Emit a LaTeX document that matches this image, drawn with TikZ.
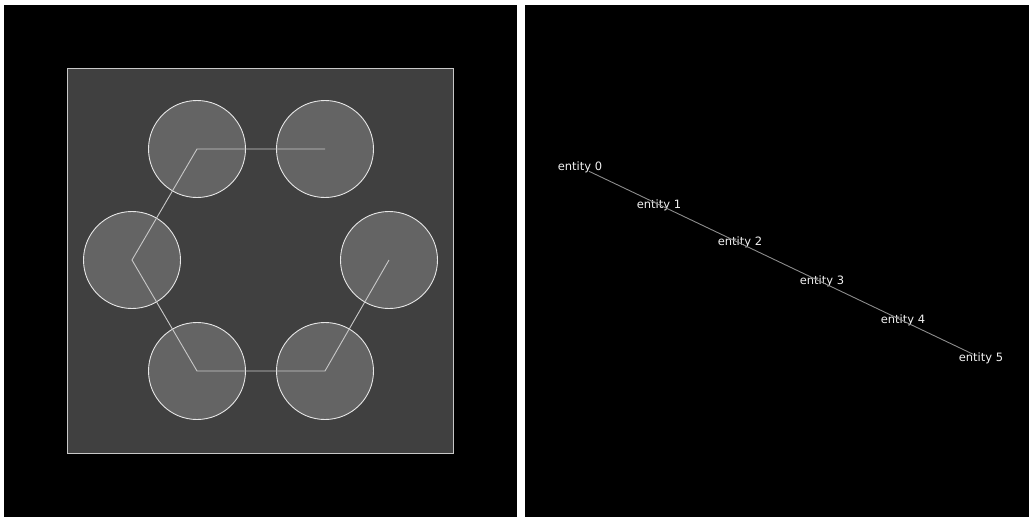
\documentclass[tikz,border=0pt]{standalone}
\usepackage{fontspec}
\setmainfont{DejaVu Sans}
\usepackage{tikz}
\usetikzlibrary{positioning,calc}
\usepackage{xcolor}
\definecolor{panel}{HTML}{000000}
\definecolor{field}{HTML}{404040}
\definecolor{fieldline}{HTML}{C8C8C8}
\definecolor{discfill}{HTML}{646464}
\definecolor{discline}{HTML}{E6E6E6}
\definecolor{pathline}{HTML}{C8C8C8}
\definecolor{chainline}{HTML}{8C8C8C}
\definecolor{tagtext}{HTML}{F2F2F2}

\begin{document}
\begin{tikzpicture}[
  x=1pt,y=-1pt,
  disc/.style={circle,draw=discline,fill=discfill,line width=0.9pt,minimum size=97pt,inner sep=0pt},
  tag/.style={text=tagtext,font=\fontsize{11.5}{13}\selectfont,inner sep=0pt},
  walk/.style={draw=pathline,line width=0.9pt},
  chain/.style={draw=chainline,line width=0.9pt,shorten <=10pt,shorten >=9pt}
]
\useasboundingbox (0,0) rectangle (1029,517);
\fill[white] (0,0) rectangle (1029,517);
% two panels
\fill[panel] (4,5) rectangle (517,517);
\fill[panel] (525,5) rectangle (1029,517);
% left panel: field with discs
\draw[fill=field,draw=fieldline,line width=0.9pt] (67,68) rectangle (453,453);
\node[disc] (topleft) at (197,149) {};
\node[disc] (topright) at (325,149) {};
\node[disc] (left) at (132,260) {};
\node[disc] (right) at (389,260) {};
\node[disc] (botleft) at (197,371) {};
\node[disc] (botright) at (325,371) {};
\draw[walk] (topright.center) -- (topleft.center) -- (left.center) -- (botleft.center)
  -- (botright.center) -- (right.center);
% right panel: entity chain
\node[tag] (e0) at (580,167) {entity 0};
\node[tag] (e1) at (659,205) {entity 1};
\node[tag] (e2) at (740,242) {entity 2};
\node[tag] (e3) at (822,281) {entity 3};
\node[tag] (e4) at (903,320) {entity 4};
\node[tag] (e5) at (981,358) {entity 5};
\draw[chain] (e0.center) -- (e5.center);
\end{tikzpicture}
\end{document}
